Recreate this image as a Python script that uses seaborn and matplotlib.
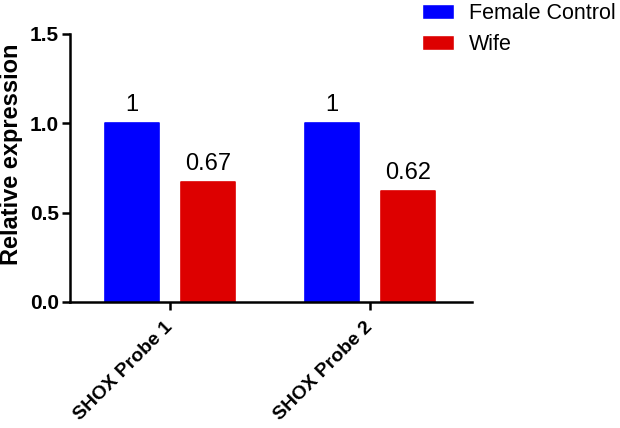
import matplotlib
matplotlib.use("Agg")
import matplotlib.pyplot as plt
import pandas as pd
import seaborn as sns

# values
probes = ["SHOX Probe 1", "SHOX Probe 2"]
groups = ["Female Control", "Wife"]
control_vals = [1.0, 1.0]
wife_vals = [0.67, 0.62]
control_labels = ["1", "1"]
wife_labels = ["0.67", "0.62"]
colors = ["#0000FF", "#DD0000"]

df = pd.DataFrame({
    "Probe": probes * 2,
    "Group": [groups[0]] * 2 + [groups[1]] * 2,
    "Value": control_vals + wife_vals,
})

sns.set_style("ticks", rc={"text.color": "black", "axes.labelcolor": "black",
                           "xtick.color": "black", "ytick.color": "black",
                           "axes.edgecolor": "black"})
plt.rcParams["font.family"] = ["Liberation Sans", "DejaVu Sans"]

fig = plt.figure(figsize=(6.2, 4.28), dpi=100)
ax = fig.add_axes([0.1129, 0.2944, 0.6484, 0.6262])

sns.barplot(data=df, x="Probe", y="Value", hue="Group", palette=colors,
            width=0.76, gap=0.29, ax=ax, legend=True, saturation=1)

# value labels above each bar
for cont, labs in zip(ax.containers, [control_labels, wife_labels]):
    for bar in cont:
        bar.set_edgecolor(bar.get_facecolor())
        bar.set_linewidth(1.2)
        bar.set_joinstyle("round")
    ax.bar_label(cont, labels=labs, padding=5, fontsize=17)

ax.set_xlim(-0.5, 1.51)
ax.set_ylim(0, 1.5)
ax.set_yticks([0.0, 0.5, 1.0, 1.5])
ax.set_yticklabels(["0.0", "0.5", "1.0", "1.5"], fontsize=15, fontweight="bold")
ax.set_xticks([0, 1])
ax.set_xticklabels(probes, rotation=45, ha="right", va="center",
                   rotation_mode="anchor", fontsize=14, fontweight="bold")
ax.set_xlabel("")
ax.set_ylabel("Relative expression", fontsize=17, fontweight="bold")
# put the y label close to the left edge like the reference
ax.yaxis.set_label_coords(-0.117, 0.55)

for s in ["top", "right"]:
    ax.spines[s].set_visible(False)
for s in ["left", "bottom"]:
    ax.spines[s].set_linewidth(1.8)
ax.tick_params(axis="both", width=1.8, length=6, direction="out")
ax.tick_params(axis="y", pad=2)
ax.tick_params(axis="x", pad=10)

h, l = ax.get_legend_handles_labels()
ax.get_legend().remove()
fig.legend(h, l, loc="upper left", bbox_to_anchor=(0.649, 1.039), frameon=False,
           fontsize=15.5, handlelength=1.5, handleheight=0.7, labelspacing=0.5,
           handletextpad=0.7)

fig.savefig("out.png", dpi=100)
